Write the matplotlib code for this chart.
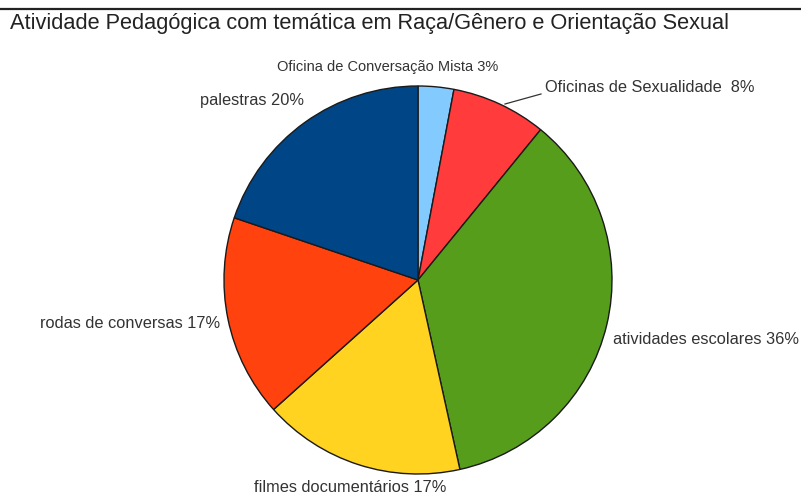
import matplotlib.pyplot as plt

# slices in drawing order, clockwise from 12 o'clock
labels = ['Oficina de Conversação Mista 3%', 'Oficinas de Sexualidade  8%',
          'atividades escolares 36%', 'filmes documentários 17%',
          'rodas de conversas 17%', 'palestras 20%']
values = [3, 8, 36, 17, 17, 20]
colors = ['#83caff', '#ff3b3b', '#579d1c', '#ffd320', '#ff420e', '#004586']

W, H = 801, 493
fig = plt.figure(figsize=(W / 100, H / 100), dpi=100)
ax = fig.add_axes([0, 0, 1, 1])
ax.set_xlim(0, W)
ax.set_ylim(0, H)
ax.set_aspect('equal')
ax.axis('off')

plt.rcParams['font.family'] = ['Liberation Sans', 'DejaVu Sans']

cx, cy, r = 418, H - 280, 194
ax.pie(values, colors=colors, startangle=90, counterclock=False,
       center=(cx, cy), radius=r,
       wedgeprops=dict(edgecolor='#1a1a1a', linewidth=1.0))
ax.set_xlim(0, W)
ax.set_ylim(0, H)

# label anchors (pixel coords from the top-left) and font sizes
pos = [(388, 67, 'center'), (545, 88, 'left'), (613, 340, 'left'),
       (350, 487, 'center'), (220, 324, 'right'), (304, 101, 'right')]
sizes = [10.5, 11.8, 11.8, 11.8, 11.8, 11.8]
for lab, (x, y, ha), fs in zip(labels, pos, sizes):
    ax.text(x, H - y, lab, ha=ha, va='center', color='#333333', fontsize=fs)

# leader line for the sexuality workshops label
ax.plot([505, 541], [H - 104, H - 94], color='#333333', lw=0.9)

ax.axhline(H - 9, color='#222222', lw=1.6)
ax.text(10, H - 24, 'Atividade Pedagógica com temática em Raça/Gênero e Orientação Sexual',
        fontsize=15.7, color='#222222', va='center', ha='left')

fig.savefig('out.png', dpi=100)
